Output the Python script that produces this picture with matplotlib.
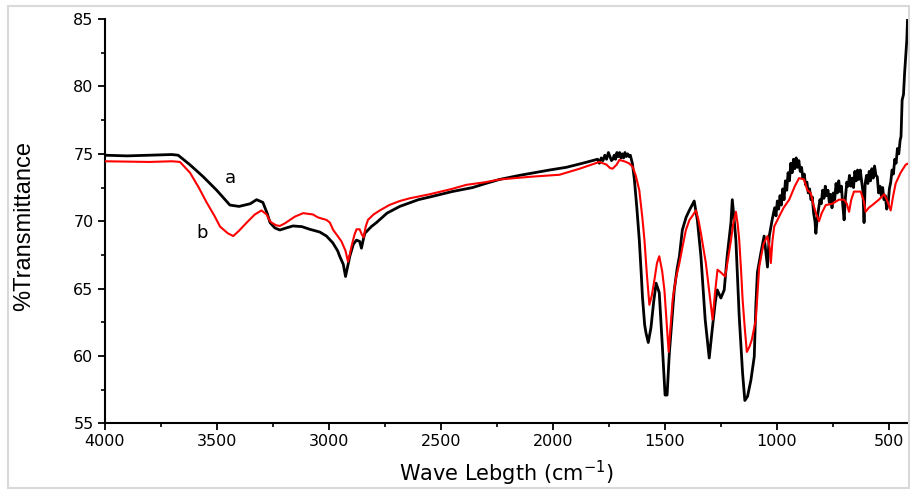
import matplotlib
matplotlib.use('Agg')
import matplotlib.pyplot as plt
from matplotlib.patches import Rectangle
from matplotlib.ticker import MultipleLocator

plt.rcParams['font.family'] = ['DejaVu Sans']
plt.rcParams['mathtext.fontset'] = 'dejavusans'

# curve a (black)
wn_a = [4000, 3900, 3800, 3700, 3672, 3620, 3560, 3500, 3441, 3400, 3350, 3322, 3294, 3275,
        3262, 3240, 3218, 3190, 3160, 3120, 3084, 3040, 3010, 2982, 2960, 2951, 2935, 2925,
        2915, 2906, 2890, 2876, 2862, 2854, 2845, 2839, 2810, 2787, 2740, 2683, 2600, 2536,
        2450, 2358, 2300, 2238, 2150, 2050, 2015, 1940, 1868,
        1800, 1792, 1784, 1776, 1768, 1760, 1752, 1745, 1738, 1732, 1726, 1720, 1714, 1708,
        1702, 1696, 1690, 1684, 1678, 1672, 1666, 1660, 1654, 1648, 1645,
        1636, 1625, 1614, 1605, 1600, 1590, 1584, 1574, 1562, 1550, 1539, 1525, 1511, 1499,
        1490, 1480, 1468, 1458, 1445, 1435, 1422, 1405, 1391, 1369, 1355, 1339, 1320, 1302,
        1289, 1275, 1266, 1250, 1235, 1222, 1205, 1199, 1190, 1183, 1168, 1153, 1143, 1131,
        1116, 1101, 1094, 1087, 1072, 1057, 1042, 1034, 1020,
        1010, 1004, 998, 992, 986, 980, 974, 968, 962, 956, 950, 944, 938, 932, 926, 920,
        914, 908, 902, 896, 890, 884, 878, 872, 866, 860, 854, 848, 842, 836, 830, 826,
        820, 814, 808, 802, 796, 790, 784, 778, 772, 766, 760, 754, 748, 742, 736, 730,
        724, 718, 712, 706, 700, 694, 688, 682, 676, 670, 664, 658, 652, 646, 640, 634,
        628, 622, 616, 611, 606, 600, 594, 588, 582, 576, 570, 564, 558, 552, 546, 540,
        534, 528, 522, 516, 510, 504, 498, 492, 486, 480, 474, 468, 462, 456, 450, 446,
        441, 435, 430, 425, 420, 417, 413]
t_a = [74.9, 74.85, 74.9, 74.95, 74.9, 74.2, 73.3, 72.3, 71.2, 71.1, 71.3, 71.6, 71.4, 70.6,
       69.9, 69.5, 69.35, 69.5, 69.65, 69.6, 69.4, 69.2, 68.9, 68.4, 67.8, 67.4, 66.8, 65.9,
       66.7, 67.4, 68.3, 68.6, 68.5, 68.0, 68.7, 69.1, 69.6, 69.9, 70.6, 71.1, 71.6, 71.85,
       72.2, 72.5, 72.8, 73.1, 73.4, 73.7, 73.8, 74.0, 74.3,
       74.6, 74.3, 74.7, 74.5, 74.9, 74.6, 75.1, 74.8, 74.5, 74.6, 74.9, 74.6, 75.1, 74.8,
       75.1, 74.7, 75.0, 74.7, 75.1, 74.8, 75.0, 74.8, 74.9, 74.5, 74.3,
       73.1, 71.0, 68.6, 66.0, 64.4, 62.3, 61.7, 61.0, 62.1, 64.0, 65.4, 64.7, 60.7, 57.1,
       57.1, 60.2, 62.8, 64.9, 66.5, 67.4, 69.35, 70.3, 70.8, 71.5, 70.1, 67.4, 62.7, 59.85,
       61.9, 64.0, 64.9, 64.3, 64.9, 67.4, 69.9, 71.6, 70.0, 68.6, 62.9, 58.7, 56.7, 57.0,
       58.2, 59.95, 63.7, 66.2, 67.6, 68.9, 66.6, 68.9, 70.2,
       71.0, 70.4, 71.5, 70.9, 71.9, 71.2, 72.4, 71.6, 73.0, 72.3, 73.6, 73.0, 74.3, 73.6,
       74.6, 73.9, 74.7, 74.0, 74.5, 73.7, 74.0, 73.2, 73.5, 72.7, 72.9, 72.1, 72.4, 71.6,
       71.8, 70.6, 70.0, 69.1, 70.2, 70.9, 71.6, 71.3, 72.3, 71.7, 72.6, 71.9, 72.3, 71.4,
       72.0, 71.0, 72.1, 71.6, 72.8, 72.1, 73.0, 72.2, 72.6, 71.2, 70.1, 71.8, 72.9, 72.6,
       73.4, 72.6, 73.2, 72.5, 73.7, 73.0, 73.8, 73.1, 73.8, 73.0, 72.2, 69.9, 72.8, 73.4,
       72.8, 73.7, 73.0, 73.9, 73.2, 74.1, 73.4, 73.3, 72.1, 72.6, 71.9, 72.5, 71.6, 71.9,
       70.9, 71.2, 72.4, 72.9, 73.8, 73.5, 74.6, 74.3, 75.4, 75.0, 76.0, 76.3,
       79.0, 79.4, 81.0, 82.2, 83.5, 85.0, 85.5]

# curve b (red)
wn_b = [4000, 3800, 3700, 3664, 3619, 3580, 3545, 3510, 3485, 3450, 3426, 3400, 3366, 3330,
        3300, 3277, 3262, 3255, 3235, 3218, 3195, 3173, 3150, 3114, 3070, 3050, 3032, 3010,
        2995, 2980, 2960, 2943, 2925, 2914, 2905, 2899, 2885, 2876, 2862, 2852, 2844, 2835,
        2825, 2800, 2772, 2730, 2683, 2639, 2550, 2500, 2450, 2386, 2300, 2238, 2100, 1970,
        1880, 1792, 1760, 1745, 1733, 1715, 1703, 1681, 1660, 1644, 1630, 1614, 1600, 1591,
        1580, 1569, 1558, 1547, 1535, 1525, 1512, 1502, 1490, 1483, 1473, 1465, 1450, 1435,
        1420, 1406, 1390, 1379, 1361, 1350, 1339, 1328, 1317, 1300, 1287, 1276, 1265, 1250,
        1231, 1218, 1205, 1195, 1183, 1175, 1168, 1160, 1153, 1143, 1134, 1122, 1112, 1094,
        1079, 1060, 1042, 1032, 1027, 1020, 1012, 990, 970, 945, 920, 901, 879, 864, 849,
        838, 826, 812, 800, 782, 752, 723, 700, 688, 678, 668, 656, 626, 612, 604, 590, 574,
        545, 521, 507, 492, 482, 470, 448, 425, 412]
t_b = [74.45, 74.4, 74.45, 74.4, 73.6, 72.5, 71.4, 70.4, 69.6, 69.1, 68.9, 69.3, 69.9, 70.5,
       70.8, 70.5, 70.0, 69.9, 69.7, 69.65, 69.85, 70.1, 70.35, 70.6, 70.5, 70.3, 70.2, 70.1,
       69.9, 69.35, 68.9, 68.5, 67.8, 67.0, 67.6, 68.1, 69.0, 69.4, 69.4, 69.0, 68.8, 69.6,
       70.1, 70.5, 70.8, 71.2, 71.5, 71.7, 72.0, 72.2, 72.4, 72.7, 72.9, 73.1, 73.3, 73.45,
       73.9, 74.4, 74.2, 73.95, 73.9, 74.2, 74.55, 74.45, 74.3, 74.05, 73.4, 72.3, 70.2, 68.6,
       66.0, 63.8, 64.5, 65.6, 66.9, 67.4, 66.3, 64.9, 62.0, 60.3, 62.5, 64.2, 65.8, 66.9,
       68.2, 69.35, 70.1, 70.35, 70.8, 70.1, 69.1, 68.0, 66.9, 64.5, 62.7, 64.7, 66.4, 66.2,
       65.9, 67.2, 68.6, 69.8, 70.7, 69.8, 68.6, 66.4, 64.2, 62.0, 60.3, 60.7, 61.2, 62.7,
       66.6, 68.3, 68.9, 68.0, 66.9, 68.5, 69.6, 70.35, 71.0, 71.6, 72.6, 73.2, 73.1, 72.3, 72.1,
       71.3, 70.6, 70.0, 70.6, 71.2, 71.3, 71.6, 71.6, 71.3, 70.7, 71.6, 72.2, 72.2, 71.5, 70.7,
       71.0, 71.2, 71.6, 72.0, 71.5, 70.8, 71.8, 72.8, 73.6, 74.2, 74.3]

fig = plt.figure(figsize=(9.1, 4.9), dpi=100)
ax = fig.add_axes([0.115, 0.136, 0.884, 0.825])

ax.plot(wn_a, t_a, color='black', lw=2.0, zorder=2)
ax.plot(wn_b, t_b, color='red', lw=1.5, zorder=3)

ax.text(3440, 73.2, 'a', fontsize=13, ha='center', va='center')
ax.text(3565, 69.1, 'b', fontsize=13, ha='center', va='center')

ax.set_xlim(4000, 410)
ax.set_ylim(55, 85)
ax.xaxis.set_major_locator(MultipleLocator(500))
ax.xaxis.set_minor_locator(MultipleLocator(250))
ax.yaxis.set_major_locator(MultipleLocator(5))
ax.yaxis.set_minor_locator(MultipleLocator(2.5))

for s in ['top', 'right']:
    ax.spines[s].set_visible(False)
for s in ['left', 'bottom']:
    ax.spines[s].set_linewidth(1.5)

ax.tick_params(which='major', direction='out', length=5, width=1.3, labelsize=11.5, pad=3)
ax.tick_params(which='minor', direction='out', length=3, width=1.2)

ax.set_xlabel(r'Wave Lebgth (cm$^{-1}$)', fontsize=15, va='center')
ax.xaxis.set_label_coords(0.5, -0.123)
ax.set_ylabel('%Transmittance', fontsize=17, va='center',
              family=['Liberation Sans Narrow', 'Liberation Sans', 'DejaVu Sans'])
ax.yaxis.set_label_coords(-0.1, 0.488)

# light grey border around the picture
fig.patches.append(Rectangle((0.009, 0.004), 0.99, 0.984, transform=fig.transFigure,
                             fill=False, edgecolor='#d9d9d9', lw=1.5))

fig.savefig('out.png', dpi=100)
